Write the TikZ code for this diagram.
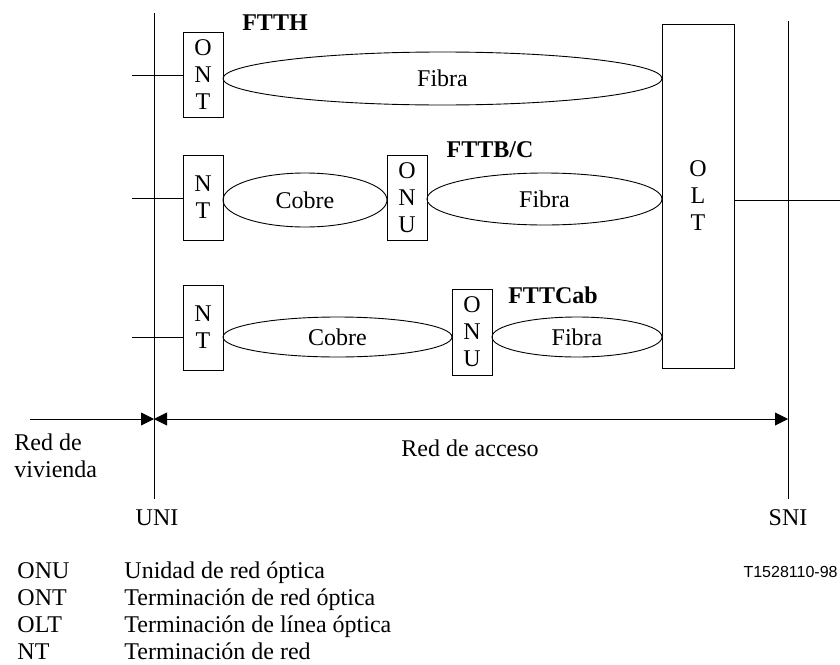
\documentclass[tikz,border=0pt]{standalone}
\usepackage{fontspec}
\setmainfont{Liberation Serif}
\newfontfamily\helv{Liberation Sans}
\usetikzlibrary{shapes.geometric,arrows.meta}
\begin{document}
\begin{tikzpicture}[x=1pt,y=-1pt,
  line width=0.9pt,
  >={Triangle[length=13pt,width=13pt]},
  lbl/.style={font=\fontsize{24}{27}\selectfont, inner sep=0pt},
  unit/.style={draw, rectangle, inner sep=0pt, outer sep=0pt, align=center, font=\fontsize{24}{27}\selectfont},
  link/.style={draw, ellipse, inner sep=0pt, outer sep=0pt, font=\fontsize{24}{27}\selectfont},
  tag/.style={font=\fontsize{24}{27}\selectfont\bfseries, inner sep=0pt},
  leg/.style={font=\fontsize{24}{27}\selectfont, inner sep=0pt, anchor=base west},
]
\useasboundingbox (0,0) rectangle (840,664);

% interface lines
\coordinate (uniT) at (154,13);
\coordinate (uniB) at (154,499);
\coordinate (sniT) at (788,21);
\coordinate (sniB) at (788,499);
\draw (uniT) -- (uniB);
\draw (sniT) -- (sniB);

% OLT
\node[unit, minimum width=72pt, minimum height=344pt] (olt) at (698,196) {O\\L\\T};

% FTTH row
\node[unit, minimum width=40pt, minimum height=85pt] (ont) at (203,74.5) {O\\N\\T};
\node[link, minimum width=439pt, minimum height=53pt] (fib1) at (442.5,78.5) {Fibra};
\node[tag] (ftth) at (275,23) {FTTH};

% FTTB/C row
\node[unit, minimum width=40pt, minimum height=85pt] (nt2) at (203,197.5) {N\\T};
\node[link, minimum width=164pt, minimum height=54pt] (cob2) at (305,200) {Cobre};
\node[unit, minimum width=40pt, minimum height=85pt] (onu2) at (407,197.5) {O\\N\\U};
\node[link, minimum width=235pt, minimum height=52pt] (fib2) at (544.5,199) {Fibra};
\node[tag] (fttb) at (490,150) {FTTB/C};

% FTTCab row
\node[unit, minimum width=40pt, minimum height=85pt] (nt3) at (203,327.5) {N\\T};
\node[link, minimum width=229pt, minimum height=40pt] (cob3) at (337.5,337) {Cobre};
\node[unit, minimum width=40pt, minimum height=86pt] (onu3) at (472,332) {O\\N\\U};
\node[link, minimum width=170pt, minimum height=40pt] (fib3) at (577,337) {Fibra};
\node[tag] (fttcab) at (553,295) {FTTCab};

% stubs
\coordinate (s1) at (132,75);
\coordinate (s2) at (132,198);
\coordinate (s3) at (132,337);
\coordinate (s4) at (840,200);
\draw (s1) -- (ont.west |- s1);
\draw (s2) -- (nt2.west |- s2);
\draw (s3) -- (nt3.west |- s3);
\draw (olt.east |- s4) -- (s4);

% dimension arrows
\coordinate (hl) at (30,419);
\coordinate (ua) at (154,419);
\coordinate (sa) at (788,419);
\draw[->] (hl) -- (ua);
\draw[<->] (ua) -- (sa);

% labels
\node[lbl, anchor=west, align=left] (viv) at (14,456) {Red de\\vivienda};
\node[lbl] (acc) at (470,448) {Red de acceso};
\node[lbl] (uni) at (157,518) {UNI};
\node[lbl] (sni) at (788,518) {SNI};

% legend
\node[leg] (k1) at (17,578) {ONU};
\node[leg] (d1) at (124,578) {Unidad de red óptica};
\node[leg] (k2) at (17,605) {ONT};
\node[leg] (d2) at (124,605) {Terminación de red óptica};
\node[leg] (k3) at (17,632) {OLT};
\node[leg] (d3) at (124,632) {Terminación de línea óptica};
\node[leg] (k4) at (17,659) {NT};
\node[leg] (d4) at (124,659) {Terminación de red};

\node[inner sep=0pt, anchor=east, font=\helv\fontsize{16}{18}\selectfont] (fig) at (838,572) {T1528110-98};
\end{tikzpicture}
\end{document}
